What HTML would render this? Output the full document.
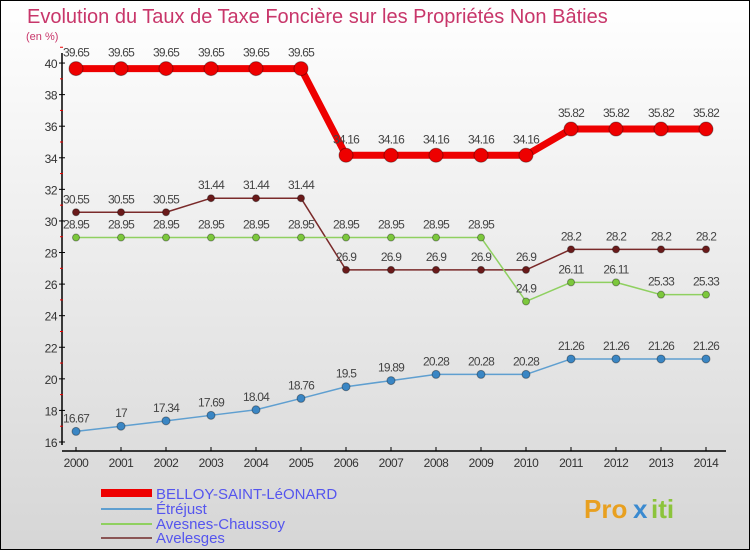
<!DOCTYPE html>
<html><head><meta charset="utf-8"><style>
body{margin:0}
#c{position:relative;width:748px;height:548px;border:1px solid #000;background:linear-gradient(#ffffff,#d6d6d6);font-family:"Liberation Sans",sans-serif;overflow:hidden}
</style></head><body>
<div id="c">
<svg id="s" width="748" height="548" style="position:absolute;left:0;top:0">
<text x="26" y="22" font-size="20" fill="#c8366a">Evolution du Taux de Taxe Foncière sur les Propriétés Non Bâties</text>
<text x="25" y="39" font-size="11" fill="#c8366a">(en %)</text>
<g id="axes"></g><g id="series"></g>
<g>
<rect x="100" y="488" width="51" height="8" fill="#e00"/>
<text x="155" y="498" font-size="15" fill="#5555ee">BELLOY-SAINT-LéONARD</text>
<rect x="100" y="507" width="51" height="2" fill="#5f9fd0"/>
<text x="155" y="513" font-size="15" fill="#5555ee">Étréjust</text>
<rect x="100" y="522" width="51" height="2" fill="#8fd060"/>
<text x="155" y="528" font-size="15" fill="#5555ee">Avesnes-Chaussoy</text>
<rect x="100" y="536" width="51" height="2" fill="#8a5555"/>
<text x="155" y="542" font-size="15" fill="#5555ee">Avelesges</text>
</g>
<g font-size="26" font-weight="bold">
<text x="583" y="517" fill="#e8a020">Pro</text><text x="632" y="517" fill="#3a8ad0">x</text><text x="650" y="517" fill="#8cc43c">iti</text>
</g>
</svg>
</div>
<script>
const years=[2000,2001,2002,2003,2004,2005,2006,2007,2008,2009,2010,2011,2012,2013,2014];
const belloy=[39.65,39.65,39.65,39.65,39.65,39.65,34.16,34.16,34.16,34.16,34.16,35.82,35.82,35.82,35.82];
const etrejust=[16.67,17,17.34,17.69,18.04,18.76,19.5,19.89,20.28,20.28,20.28,21.26,21.26,21.26,21.26];
const avesnes=[28.95,28.95,28.95,28.95,28.95,28.95,28.95,28.95,28.95,28.95,24.9,26.11,26.11,25.33,25.33];
const avelesges=[30.55,30.55,30.55,31.44,31.44,31.44,26.9,26.9,26.9,26.9,26.9,28.2,28.2,28.2,28.2];
const yTicks=[16,18,20,22,24,26,28,30,32,34,36,38,40];
const NS="http://www.w3.org/2000/svg";
const X=i=>75+i*45;
const Y=v=>441-(v-16)*15.79;
function mk(t,a,p){const e=document.createElementNS(NS,t);for(const k in a)e.setAttribute(k,a[k]);p.appendChild(e);return e;}
const ax=document.getElementById('axes');
let l=mk('line',{x1:61,y1:52,x2:61,y2:444,stroke:'#000','stroke-width':1.5},ax);


l=mk('line',{x1:61,y1:450,x2:725,y2:450,stroke:'#000','stroke-width':1.5},ax);


yTicks.forEach(v=>{
 mk('line',{x1:58,y1:Y(v),x2:64,y2:Y(v),stroke:'#000'},ax);
 mk('line',{x1:59,y1:Y(v+1),x2:62,y2:Y(v+1),stroke:'#e00'},ax);
 const t=mk('text',{x:56,y:Y(v)+5,'font-size':12,fill:'#333','text-anchor':'end','letter-spacing':'-0.5'},ax);
 t.textContent=v;
 
 
});
years.forEach((y,i)=>{
 mk('line',{x1:X(i),y1:446,x2:X(i),y2:450,stroke:'#000'},ax);
 const t=mk('text',{x:X(i),y:466,'font-size':12,fill:'#333','text-anchor':'middle','letter-spacing':'-0.5'},ax);
 t.textContent=y;
 
 
});
const sg=document.getElementById('series');
function draw(vals,name,color,w,r,dot,lblDy){
 const g=mk('g',{},sg);
 
 
 const pl=mk('polyline',{points:vals.map((v,i)=>X(i)+','+Y(v)).join(' '),fill:'none',stroke:color,'stroke-width':w,'stroke-linejoin':'round'},g);
 
 
 vals.forEach((v,i)=>{
  const c=mk('circle',{cx:X(i),cy:Y(v),r:r,fill:dot,stroke:'rgba(0,0,0,0.35)','stroke-width':1},g);
  
  
  const t=mk('text',{x:X(i),y:Y(v)+lblDy,'font-size':12,fill:'#444','text-anchor':'middle','letter-spacing':'-0.8'},g);
  t.textContent=v;
  
  
 });
}
draw(avelesges,'avelesges','#7a2a2a',1.5,3.5,'#6a1a1a',-9);
draw(avesnes,'avesnes','#8fd060',1.5,3.5,'#7cc83c',-9);
draw(etrejust,'etrejust','#5f9fd0',1.5,4,'#3a86c4',-9);
draw(belloy,'belloy','#e00',7,7,'#e00',-12);
</script>
</body></html>
